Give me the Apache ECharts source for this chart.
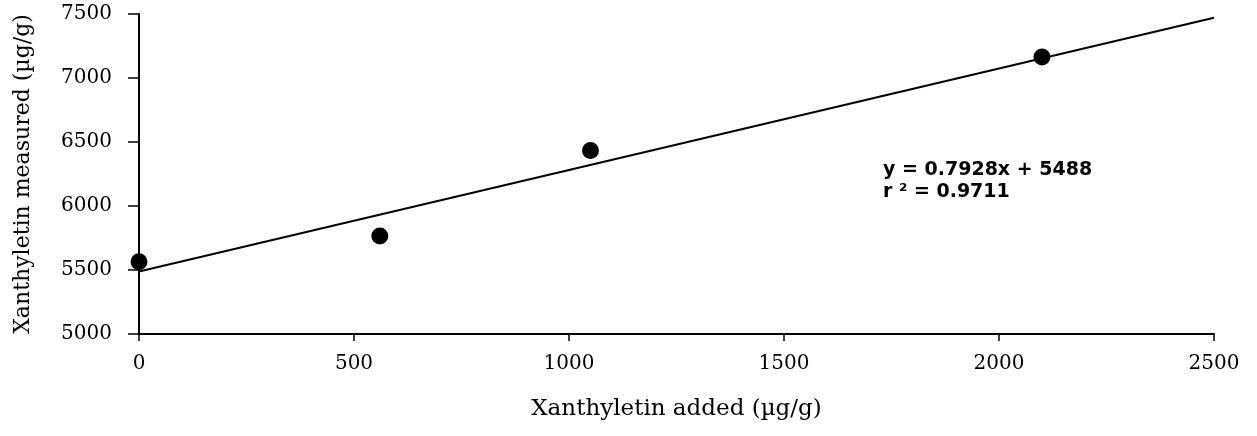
<!DOCTYPE html>
<html>
<head>
<meta charset="utf-8">
<script src="https://cdn.jsdelivr.net/npm/echarts@6/dist/echarts.min.js"></script>
<style>
html,body{margin:0;padding:0;background:#fff;}
#chart{width:1257px;height:436px;}
</style>
</head>
<body>
<div id="chart"></div>
<script>
// Data
const xAdded = [0, 560, 1050, 2100];
const yMeasured = [5565, 5766, 6434, 7164];
const fitSlope = 0.7928;
const fitIntercept = 5488;
const fitRSquared = 0.9711;
const fitRange = [0, 2500];
const xTicks = [0, 500, 1000, 1500, 2000, 2500];
const yTicks = [5000, 5500, 6000, 6500, 7000, 7500];

const points = xAdded.map((x, i) => [x, yMeasured[i]]);
const fitLine = fitRange.map(x => [x, fitIntercept + fitSlope * x]);

const serif = '"DejaVu Serif", "Liberation Serif", serif';
const plain = v => String(v);
const chart = echarts.init(document.getElementById('chart'), null, {renderer: 'canvas'});
chart.setOption({
  backgroundColor: '#fff',
  animation: false,
  grid: {left: 139, right: 43, top: 14, bottom: 102, containLabel: false},
  xAxis: {
    type: 'value',
    min: xTicks[0], max: xTicks[xTicks.length - 1], interval: xTicks[1] - xTicks[0],
    name: 'Xanthyletin added (\u00b5g/g)',
    nameLocation: 'middle', nameGap: 64,
    nameTextStyle: {fontFamily: serif, fontSize: 23, color: '#000'},
    axisLine: {lineStyle: {color: '#000', width: 2}},
    axisTick: {show: true, length: 7, lineStyle: {color: '#000', width: 1.5}},
    axisLabel: {margin: 20, color: '#000', fontFamily: serif, fontSize: 20, formatter: plain},
    splitLine: {show: false}
  },
  yAxis: {
    type: 'value',
    min: yTicks[0], max: yTicks[yTicks.length - 1], interval: yTicks[1] - yTicks[0],
    name: 'Xanthyletin measured (\u00b5g/g)',
    nameLocation: 'middle', nameGap: 105,
    nameTextStyle: {fontFamily: serif, fontSize: 22, color: '#000'},
    axisLine: {show: true, lineStyle: {color: '#000', width: 2}},
    axisTick: {show: true, length: 11, lineStyle: {color: '#000', width: 1.5}},
    axisLabel: {margin: 27, color: '#000', fontFamily: serif, fontSize: 20, formatter: plain},
    splitLine: {show: false}
  },
  series: [
    {
      type: 'line',
      data: fitLine,
      showSymbol: false,
      lineStyle: {color: '#000', width: 2},
      silent: true,
      z: 2
    },
    {
      type: 'scatter',
      data: points,
      symbol: 'circle',
      symbolSize: 17,
      itemStyle: {color: '#000', opacity: 1},
      z: 3
    }
  ],
  graphic: [
    {
      type: 'text',
      left: 883,
      top: 159,
      style: {
        text: 'y = ' + fitSlope + 'x + ' + fitIntercept + '\nr \u00b2 = ' + fitRSquared,
        fill: '#000',
        font: 'bold 19px "DejaVu Sans", "Liberation Sans", sans-serif',
        lineHeight: 22
      }
    }
  ]
});
</script>
</body>
</html>
